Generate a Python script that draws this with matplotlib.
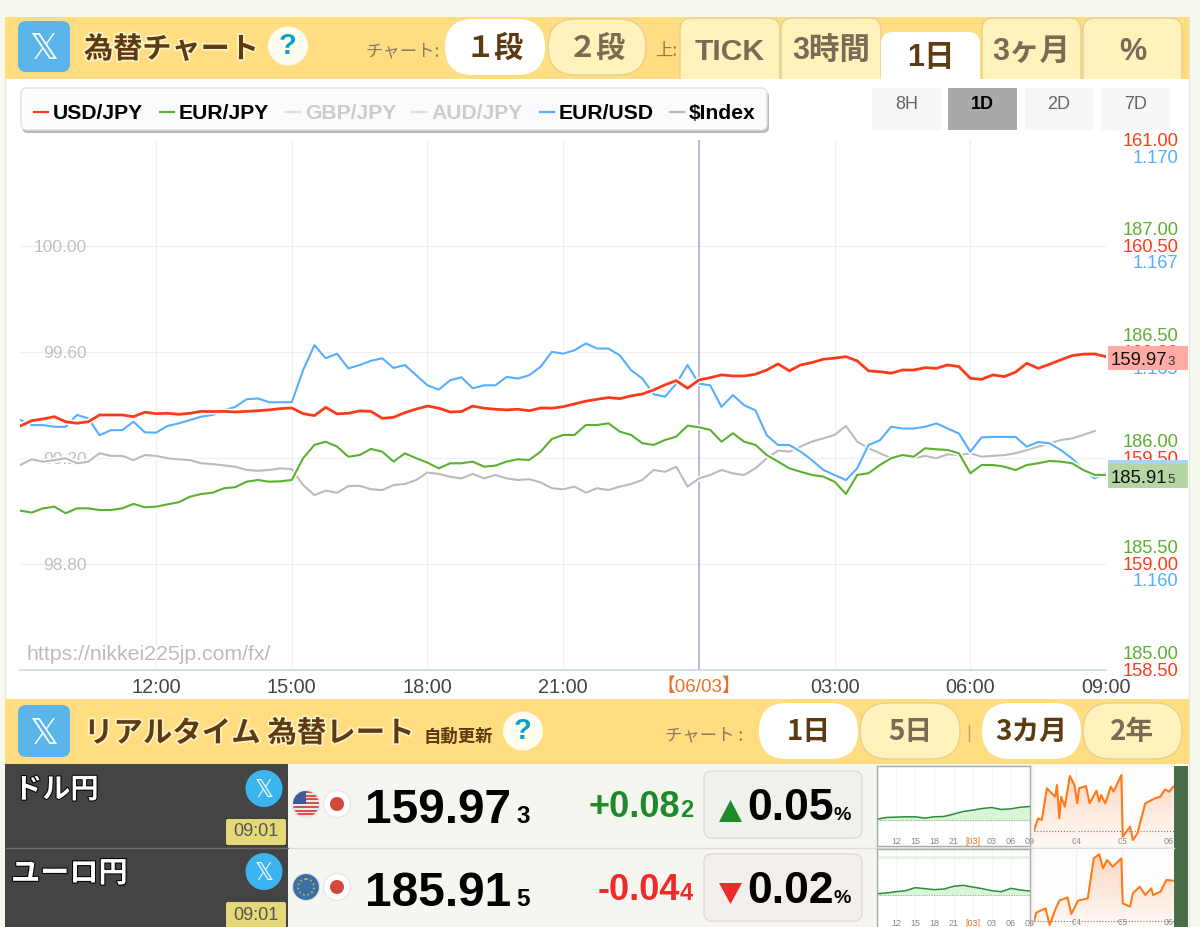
import numpy as np
import matplotlib
matplotlib.use("Agg")
import matplotlib.pyplot as plt
import matplotlib.patheffects as pe
from matplotlib.colors import LinearSegmentedColormap
from matplotlib.patches import Rectangle, FancyBboxPatch, Circle, Polygon, Ellipse

plt.rcParams['font.family'] = ['Liberation Sans', 'Noto Sans CJK JP', 'DejaVu Sans']

W, H = 1200, 927

# 24 hours from 09:00, one reading every 15 minutes
hours = np.arange(0, 24.25, 0.25)

usd_jpy = [159.651, 159.676, 159.684, 159.695, 159.671, 159.664, 159.671, 159.703, 159.703, 159.703,
           159.695, 159.716, 159.709, 159.711, 159.706, 159.711, 159.720, 159.719, 159.720, 159.717,
           159.720, 159.723, 159.727, 159.733, 159.736, 159.709, 159.700, 159.739, 159.708, 159.711,
           159.722, 159.720, 159.687, 159.692,
           159.714, 159.731, 159.745, 159.735, 159.717, 159.719, 159.745, 159.735, 159.730, 159.727,
           159.730, 159.723, 159.736, 159.735, 159.742, 159.755, 159.768, 159.777, 159.785, 159.780,
           159.793, 159.802, 159.821, 159.845, 159.865, 159.829, 159.868, 159.879, 159.892, 159.887,
           159.887, 159.895, 159.915, 159.944, 159.911, 159.939,
           159.950, 159.966, 159.971, 159.978, 159.958, 159.911, 159.907, 159.900, 159.915, 159.915,
           159.926, 159.923, 159.939, 159.931, 159.876, 159.871, 159.892, 159.884, 159.905, 159.947,
           159.923, 159.942, 159.963, 159.983, 159.990, 159.991, 159.978]

eur_jpy = [185.668, 185.659, 185.679, 185.687, 185.656, 185.679, 185.679, 185.671, 185.671, 185.679,
           185.700, 185.684, 185.687, 185.698, 185.708, 185.734, 185.747, 185.753, 185.774, 185.779,
           185.805, 185.813, 185.805, 185.807, 185.813, 185.916, 185.979, 185.994, 185.971, 185.923,
           185.931, 185.960, 185.947, 185.900,
           185.939, 185.916, 185.895, 185.868, 185.892, 185.892, 185.900, 185.876, 185.881, 185.900,
           185.911, 185.908, 185.947, 186.007, 186.026, 186.026, 186.073, 186.073, 186.081, 186.042,
           186.026, 185.987, 185.979, 186.002, 186.018, 186.070, 186.062, 186.050, 185.994, 186.034,
           185.994, 185.979, 185.931, 185.900, 185.868, 185.852,
           185.837, 185.829, 185.805, 185.747, 185.837, 185.845, 185.884, 185.916, 185.931, 185.923,
           185.963, 185.958, 185.955, 185.939, 185.845, 185.884, 185.884, 185.876, 185.860, 185.884,
           185.892, 185.903, 185.900, 185.892, 185.860, 185.837, 185.837]

eur_usd = [1.16376, 1.16364, 1.16364, 1.16360, 1.16360, 1.16388, 1.16380, 1.16340, 1.16352, 1.16352,
           1.16372, 1.16347, 1.16346, 1.16362, 1.16368, 1.16376, 1.16384, 1.16388, 1.16399, 1.16407,
           1.16425, 1.16427, 1.16418, 1.16418, 1.16418, 1.16494, 1.16553, 1.16522, 1.16533, 1.16498,
           1.16506, 1.16516, 1.16522, 1.16499,
           1.16506, 1.16482, 1.16458, 1.16448, 1.16470, 1.16477, 1.16451, 1.16458, 1.16458, 1.16478,
           1.16474, 1.16482, 1.16502, 1.16537, 1.16533, 1.16541, 1.16557, 1.16545, 1.16545, 1.16529,
           1.16494, 1.16474, 1.16437, 1.16431, 1.16462, 1.16506, 1.16462, 1.16458, 1.16407, 1.16435,
           1.16411, 1.16399, 1.16340, 1.16317, 1.16317, 1.16301,
           1.16281, 1.16258, 1.16246, 1.16234, 1.16262, 1.16317, 1.16328, 1.16360, 1.16356, 1.16356,
           1.16360, 1.16368, 1.16356, 1.16344, 1.16301, 1.16335, 1.16336, 1.16336, 1.16336, 1.16313,
           1.16324, 1.16321, 1.16305, 1.16285, 1.16258, 1.16238, 1.16251]

dollar_index = [99.174, 99.195, 99.186, 99.192, 99.199, 99.180, 99.186, 99.218, 99.208, 99.208,
                99.192, 99.211, 99.208, 99.199, 99.195, 99.192, 99.180, 99.177, 99.172, 99.167,
                99.155, 99.152, 99.155, 99.161, 99.158, 99.098, 99.060, 99.077, 99.069, 99.094,
                99.095, 99.082, 99.079, 99.098,
                99.102, 99.117, 99.145, 99.140, 99.129, 99.123, 99.140, 99.123, 99.136, 99.123,
                99.117, 99.120, 99.108, 99.086, 99.082, 99.092, 99.069, 99.086, 99.079, 99.092,
                99.102, 99.117, 99.155, 99.148, 99.167, 99.092, 99.123, 99.136, 99.155, 99.142,
                99.136, 99.161, 99.199, 99.228, 99.224, 99.243,
                99.262, 99.274, 99.287, 99.321, 99.262, 99.237, 99.218, 99.199, 99.211, 99.199,
                99.208, 99.199, 99.214, 99.211, 99.218, 99.205, 99.208, 99.211, 99.218, 99.230,
                99.243, 99.255, 99.268, 99.274, 99.287, 99.302, np.nan]

time_ticks = [3, 6, 9, 12, 15, 18, 21, 24]
time_labels = ['12:00', '15:00', '18:00', '21:00', '【06/03】', '03:00', '06:00', '09:00']

index_ticks = [98.8, 99.2, 99.6, 100.0]
usd_ticks = [158.5, 159.0, 159.5, 160.0, 160.5, 161.0]
eurjpy_ticks = [185.0, 185.5, 186.0, 186.5, 187.0]
eurusd_ticks = [1.160, 1.1625, 1.165, 1.1675, 1.170]
eurusd_labels = ['1.160', '1.163', '1.165', '1.167', '1.170']

legend_names = ['USD/JPY', 'EUR/JPY', 'GBP/JPY', 'AUD/JPY', 'EUR/USD', '$Index']

# small charts in the rate table
spark_hours = [0, 1.5, 3, 4.5, 6, 7.5, 9, 10.5, 12, 13.5, 15, 16.5, 18, 19.5, 21, 22.5, 24]
spark_usd = [.03, .08, .09, .10, .10, .06, .10, .11, .18, .26, .30, .35, .38, .32, .34, .39, .41]
spark_eur = [.03, .05, .09, .12, .21, .18, .15, .17, .25, .28, .23, .18, .12, .09, .19, .14, .11]
spark_labels = ['12', '15', '18', '21', '[03]', '03', '06', '09']

usd_months = [3.08, 3.17, 3.25, 3.36, 3.54, 3.58, 3.63, 3.67, 3.75, 3.86, 3.96, 4.02, 4.06, 4.21, 4.29, 4.44,
              4.5, 4.54, 4.63, 4.75, 4.81, 4.98, 5.01, 5.17, 5.23, 5.33, 5.5, 5.71, 5.83, 5.93, 6.02, 6.11]
usd_3m = [.02, .37, .32, 1.27, 1.02, 1.37, .37, 1.02, .72, 1.64, 1.37, .82, 1.27, 1.34, .82, 1.20,
          .87, 1.07, .82, 1.32, 1.17, 1.67, -.18, .12, -.28, -.08, .82, .97, 1.02, 1.24, 1.17, 1.32]
eur_months = [3.08, 3.13, 3.33, 3.42, 3.54, 3.63, 3.81, 3.89, 4.04, 4.25, 4.38, 4.5, 4.58, 4.67, 4.79, 4.98,
              5.01, 5.17, 5.23, 5.38, 5.5, 5.63, 5.67, 5.83, 5.96, 6.11]
eur_3m = [0, .24, .37, -.13, .32, .60, .70, .20, .60, .67, 1.87, 1.99, 1.57, 1.82, 1.62, 1.87,
          .52, .42, .82, 1.02, .77, .97, .77, .87, 1.22, 1.20]

BAND = '#ffdd80'
CREAM = '#fff2bb'
BROWN = '#5c3a12'
MUTED = '#7d6a55'
RED, GREEN, BLUE, GREY = '#ff3a1a', '#5cb030', '#55aeff', '#bbbbbb'
CJK = ['Noto Sans CJK JP', 'DejaVu Sans']


def px_axes(x0, y0, x1, y1, z):
    a = fig.add_axes([x0 / W, 1 - y1 / H, (x1 - x0) / W, (y1 - y0) / H])
    a.set_zorder(z)
    return a


def box(a, x0, y0, x1, y1, r, fc, ec='none', lw=1, **kw):
    p = FancyBboxPatch((x0, y0), x1 - x0, y1 - y0, boxstyle=f'round,pad=0,rounding_size={r}',
                       fc=fc, ec=ec, lw=lw, **kw)
    a.add_patch(p)
    return p


fig = plt.figure(figsize=(W / 100, H / 100), dpi=100, facecolor='#f5f9ef')

# page furniture behind the chart
bg = px_axes(0, 0, W, H, 0)
bg.set_xlim(0, W)
bg.set_ylim(H, 0)
bg.axis('off')
bg.add_patch(Rectangle((4.5, 16.5), 1184.5, 911, fc='white', ec='#e4e8dc', lw=0.8))

# main chart, one axes per scale
ax = px_axes(20.4, 140, 1106, 670, 1)
ax.patch.set_alpha(0)
ax.set_xlim(0, 24)
ax.set_ylim(98.4, 100.4)
for s in ['top', 'left', 'right']:
    ax.spines[s].set_visible(False)
ax.spines['bottom'].set_color('#ccd6eb')
ax.spines['bottom'].set_linewidth(1.2)
ax.set_xticks(time_ticks, time_labels)
ax.tick_params(axis='x', length=0, pad=6, labelsize=14.3, labelcolor='#444444')
ax.get_xticklabels()[4].set_color('#e8722a')
ax.get_xticklabels()[4].set_fontsize(13.5)
ax.set_yticks(index_ticks, [f'{v:.2f}' for v in index_ticks])
# pad is in points, labels sit inside the plot
ax.tick_params(axis='y', length=0, pad=-47.5, labelsize=12.5, labelcolor='#c0c0c0')
for t in ax.get_yticklabels():
    t.set_ha('right')
ax.grid(True, color='#f0f0f0', lw=0.9)
ax.set_axisbelow(True)
ax.axvline(15, color='#aab0d0', lw=1.2, zorder=1)
ax.text(0.13, 98.46, 'https://nikkei225jp.com/fx/', fontsize=15.3, color='#bbbbbb', va='center')


def line(a, values, color, lw):
    a.plot(hours, values, color=color, lw=lw, solid_joinstyle='round', zorder=3,
           path_effects=[pe.Stroke(linewidth=lw + 2.2, foreground='white'), pe.Normal()])


line(ax, dollar_index, GREY, 1.5)


def twin(z, ylim, ticks, labels, color):
    a = ax.twinx()
    a.set_zorder(z)
    a.set_ylim(*ylim)
    for s in a.spines.values():
        s.set_visible(False)
    a.set_yticks(ticks, labels)
    a.tick_params(axis='y', length=0, pad=52, labelsize=13.2, labelcolor=color)
    for t in a.get_yticklabels():
        t.set_ha('right')
    return a


ax_blue = twin(2, (1.15785, 1.17038), eurusd_ticks, eurusd_labels, BLUE)
line(ax_blue, eur_usd, BLUE, 1.5)
ax_green = twin(3, (184.915, 187.42), eurjpy_ticks, [f'{v:.2f}' for v in eurjpy_ticks], GREEN)
line(ax_green, eur_jpy, GREEN, 1.5)
ax_red = twin(4, (158.5, 161.0), usd_ticks, [f'{v:.2f}' for v in usd_ticks], RED)
line(ax_red, usd_jpy, RED, 2.0)

# everything drawn on top of the chart
ui = px_axes(0, 0, W, H, 5)
ui.patch.set_alpha(0)
ui.set_xlim(0, W)
ui.set_ylim(H, 0)
ui.axis('off')

glow = [pe.withStroke(linewidth=2.5, foreground='#fff3c8')]


def x_icon(cx, cy, size=26):
    ui.text(cx, cy + 3, '\U0001D54F', family='DejaVu Sans', fontsize=size, color='white', ha='center', va='center')


def help_icon(cx, cy):
    ui.add_patch(Ellipse((cx, cy), 40, 39, fc='#fffdf0', ec='none'))
    ui.text(cx, cy, '?', fontsize=21, weight='bold', color='#0aa3c8', ha='center', va='center')


def pill(x0, x1, y0, y1, label, on, size=21):
    box(ui, x0, y0, x1, y1, (y1 - y0) / 2, 'white' if on else CREAM, 'none' if on else '#e6cf90')
    ui.text((x0 + x1) / 2, (y0 + y1) / 2 + 1, label, family=CJK, fontsize=size, weight='bold',
            color=BROWN if on else MUTED, ha='center', va='center')


# top band
ui.add_patch(Rectangle((4.5, 16.5), 1184.5, 62.5, fc=BAND, ec='none'))
box(ui, 18, 21, 70, 72, 8, '#5ab6ea')
x_icon(44, 46)
ui.text(84, 49, '為替チャート', family=CJK, fontsize=21, weight='bold', color=BROWN, va='center', path_effects=glow)
help_icon(288, 46)
ui.text(365, 51, 'チャート:', family=CJK, fontsize=12.5, color='#8a7a60', va='center')
pill(445, 545, 19, 75, '１段', True)
pill(548, 646, 19, 75, '２段', False)
ui.text(655, 51, '上:', family=CJK, fontsize=12.5, color='#8a7a60', va='center')

tabs = [(680, 780, 'TICK', 0), (781, 881, '3時間', 0), (881, 980, '1日', 1), (982, 1081, '3ヶ月', 0), (1083, 1182, '%', 0)]
for x0, x1, label, on in tabs:
    top = 32 if on else 18
    p = box(ui, x0, top, x1, top + 90, 12, 'white' if on else CREAM, 'none' if on else '#e6cf90')
    p.set_clip_path(Rectangle((x0 - 1, top - 1), x1 - x0 + 2, 79 - top + 1, transform=ui.transData))
    ui.text((x0 + x1) / 2, 58 if on else 52, label, family=['Liberation Sans'] + CJK, fontsize=21.6 if label == 'TICK' else 22,
            weight='bold', color=BROWN if on else MUTED, ha='center', va='center')

# legend box
box(ui, 22, 91, 769, 133, 6, '#b8b8b8')
box(ui, 21, 88, 767, 130, 6, '#fbfbfe', '#e2e2e2')
leg_x = [34, 160, 286, 412, 540, 670]
leg_col = [RED, GREEN, '#dddddd', '#dddddd', BLUE, GREY]
leg_txt = ['black', 'black', '#cccccc', '#cccccc', 'black', 'black']
for name, lx, c, tc in zip(legend_names, leg_x, leg_col, leg_txt):
    ui.plot([lx, lx + 14], [112, 112], color=c, lw=1.6)
    ui.text(lx + 19, 113, name, fontsize=15.2, weight='bold', color=tc, va='center')

# range buttons
for x0, x1, label, on in [(872, 941, '8H', 0), (948, 1017, '1D', 1), (1025, 1093, '2D', 0), (1101, 1170, '7D', 0)]:
    ui.add_patch(Rectangle((x0, 88), x1 - x0, 42, fc='#a9a9a9' if on else '#f7f7f7', ec='none'))
    ui.text((x0 + x1) / 2, 104, label, fontsize=13, weight='bold' if on else 'normal',
            color='black' if on else '#666666', ha='center', va='center')

# last value flags on the right
ui.add_patch(Rectangle((1108, 460), 80, 6, fc='#a9d4f5', ec='none'))
ui.add_patch(Rectangle((1108, 346), 80, 23.5, fc='#ffaaa5', ec='none'))
ui.add_patch(Rectangle((1108, 464), 80, 24, fc='#b5d6a2', ec='none'))
for yb, big, small in [(365, '159.97', '3'), (483, '185.91', '5')]:
    ui.text(1111, yb, big, fontsize=13.3, color='#111111', va='baseline')
    ui.text(1167, yb, small, fontsize=9.5, color='#333333', va='baseline')

# second band
ui.add_patch(Rectangle((4.5, 699), 1184.5, 65, fc=BAND, ec='none'))
box(ui, 18, 705, 70, 757, 8, '#5ab6ea')
x_icon(44, 731)
ui.text(84, 733, 'リアルタイム 為替レート', family=CJK, fontsize=21.2, weight='bold', color=BROWN, va='center', path_effects=glow)
ui.text(424, 737, '自動更新', family=CJK, fontsize=12.5, weight='bold', color=BROWN, va='center')
help_icon(523, 731)
ui.text(665, 735, 'チャート :', family=CJK, fontsize=12.5, color='#8a7a60', va='center')
pill(759, 858, 703, 759, '1日', True, 20)
pill(860, 960, 703, 759, '5日', False, 20)
ui.plot([968.5, 968.5], [725, 741], color='#b0a080', lw=1)
pill(982, 1081, 703, 759, '3カ月', True, 20)
pill(1083, 1182, 703, 759, '2年', False, 20)

# rate rows
ui.add_patch(Rectangle((288, 764), 886, 163, fc='#f6f6f0', ec='none'))
ui.plot([288, 1174], [847.5, 847.5], color='#dddddd', lw=1)
ui.add_patch(Rectangle((5, 764), 283, 163, fc='#444444', ec='none'))
ui.plot([5, 288], [847.5, 847.5], color='#6a6a6a', lw=1)
name_glow = [pe.withStroke(linewidth=1.5, foreground='black')]
rows = [(764, 'ドル円', 14, 20.3, '159.97', '3', '+0.08', '2', '#1f8a2c', '0.05', '#eff2ea'),
        (847, 'ユーロ円', 11, 21, '185.91', '5', '-0.04', '4', '#ee2a2a', '0.02', '#f3efeb')]
for y, name, nx, ns, price, pd, chg, cd, col, pct, bc in rows:
    ui.text(nx, y + 26, name, family=CJK, fontsize=ns, weight='bold', color='white', va='center', path_effects=name_glow)
    ui.add_patch(Circle((264, y + 24.5), 18.5, fc='#3cb4f0', ec='none'))
    ui.text(264, y + 26, '\U0001D54F', family='DejaVu Sans', fontsize=17, color='white', ha='center', va='center')
    box(ui, 226, y + 55, 286, y + 81, 2, '#e5d878')
    ui.text(256, y + 68, '09:01', fontsize=13, color='#555555', ha='center', va='center')
    ui.text(365, y + 59, price, fontsize=34.5, weight='bold', color='black', va='baseline')
    ui.text(516, y + 59, pd, fontsize=17.5, weight='bold', color='black', va='baseline')
    ui.text(680, y + 53, chg, fontsize=26, weight='bold', color=col, ha='right', va='baseline')
    ui.text(680, y + 53, cd, fontsize=17, weight='bold', color=col, va='baseline')
    box(ui, 704, y + 7, 862, y + 74, 8, bc, '#dcdcd6')
    ui.text(747, y + 56, pct, fontsize=32, weight='bold', color='black', va='baseline')
    ui.text(833, y + 56, '%', fontsize=14, weight='bold', color='black', va='baseline')

ui.add_patch(Polygon([(719, 822), (742, 822), (730.5, 800)], fc='#1f8a2c', ec='none'))
ui.add_patch(Polygon([(719, 883), (742, 883), (730.5, 904)], fc='#ee2a2a', ec='none'))

# flags
us = Circle((306, 804), 13, transform=ui.transData)
ui.add_patch(Circle((306, 804), 14.5, fc='#e8e8e8', ec='none'))
for k in range(7):
    r = Rectangle((293, 791 + k * 3.72), 26, 1.9, fc='#d9534a', ec='none')
    ui.add_patch(r)
    r.set_clip_path(us)
canton = Rectangle((293, 791), 13, 13, fc='#3c5a9a', ec='none')
ui.add_patch(canton)
canton.set_clip_path(us)
ui.add_patch(Circle((306, 887), 13.5, fc='#3b6ea5', ec='#dfe3e6', lw=0.8))
ui.add_patch(Circle((306, 887), 8, fc='none', ec='#d9b93a', lw=1.2, ls=':'))
for cy in (804, 887):
    ui.add_patch(Circle((337, cy), 13.5, fc='white', ec='#e4e4e4', lw=0.8))
    ui.add_patch(Circle((337, cy), 7, fc='#cf4a3c', ec='none'))

# right edge strip of the table
ui.add_patch(Rectangle((1174, 766), 14, 161, fc='#4a6e48', ec='none'))


def day_spark(box_px, values, ylim, band=False):
    a = px_axes(*box_px, 6)
    a.plot(spark_hours, values, color='#2e8b3d', lw=1.1)
    a.fill_between(spark_hours, 0, values, color='#d8f5d8')
    a.axhline(0, color='#999999', lw=0.7, ls=':')
    if band:
        a.axhline(1.12, color='#e6f2e6', lw=2)
    a.set_xlim(0, 24)
    a.set_ylim(*ylim)
    a.set_yticks([])
    a.set_xticks(time_ticks, spark_labels)
    a.tick_params(axis='x', length=0, pad=-6.5, labelsize=6.5, labelcolor='#888888')
    a.get_xticklabels()[4].set_color('#e8722a')
    a.grid(axis='x', color='#f4f4f4', lw=0.7)
    a.set_axisbelow(True)
    for s in a.spines.values():
        s.set_color('#aaaaaa')
        s.set_linewidth(1)
    return a


peach = LinearSegmentedColormap.from_list('peach', ['#fffaf6', '#fcd5bd'])


def month_spark(box_px, months, values, ylim):
    a = px_axes(*box_px, 6)
    a.patch.set_facecolor('#fffdfb')
    area = a.fill_between(months, ylim[0], values, facecolor='none', lw=0)
    shade = a.imshow(np.linspace(1, 0, 64).reshape(-1, 1), cmap=peach, aspect='auto',
                     extent=(3.08, 6.125, ylim[0], ylim[1]), zorder=1)
    shade.set_clip_path(area.get_paths()[0], transform=a.transData)
    a.plot(months, values, color='#ff7a1a', lw=1.5, zorder=3)
    a.axhline(0, color='#777777', lw=0.8, ls=':', zorder=2)
    a.set_xlim(3.08, 6.125)
    a.set_ylim(*ylim)
    a.set_yticks([])
    a.set_xticks([4, 5, 6], ['04', '05', '06'])
    a.tick_params(axis='x', length=0, pad=-6.5, labelsize=6.5, labelcolor='#888888')
    for m in (4, 5):
        a.axvline(m, color='#f0f0f0', lw=0.8, zorder=2)
    for s in a.spines.values():
        s.set_visible(False)
    return a


day_spark((877, 766, 1030, 846), spark_usd, (-0.78, 1.63))
day_spark((877, 849, 1030, 928), spark_eur, (-1.0, 1.37), band=True)
month_spark((1034, 766, 1174, 846), usd_months, usd_3m, (-0.46, 1.94))
month_spark((1034, 849, 1174, 927), eur_months, eur_3m, (-0.19, 2.15))

fig.savefig('out.png', dpi=100, facecolor=fig.get_facecolor())
